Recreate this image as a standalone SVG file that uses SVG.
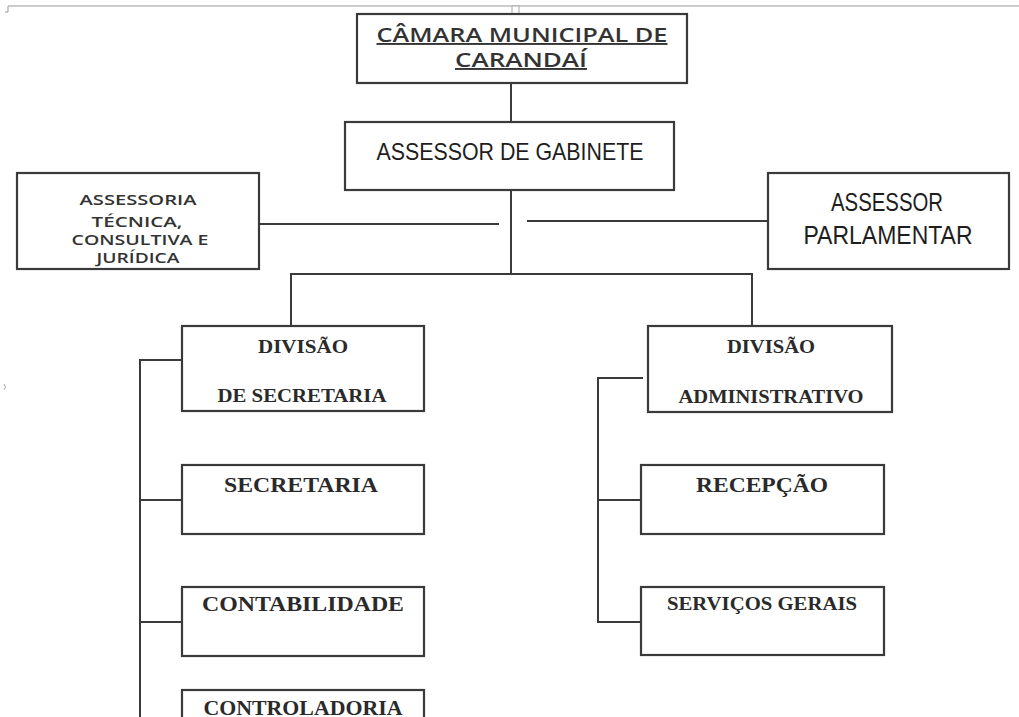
<svg xmlns="http://www.w3.org/2000/svg" width="1019" height="717" viewBox="0 0 1019 717">
<style>
.box{fill:#fff;stroke:#3a3a3a;stroke-width:2.2}
.ln{fill:none;stroke:#3a3a3a;stroke-width:2}
.sans{font-family:"Liberation Sans","DejaVu Sans",sans-serif;fill:#1e1e1e;text-anchor:middle}
.geo{font-family:"Open Sans","DejaVu Sans",sans-serif;font-weight:600;fill:#333;text-anchor:middle}
.serif{font-family:"Liberation Serif","DejaVu Serif",serif;font-weight:bold;fill:#2a2a2a;text-anchor:middle}
</style>
<rect width="1019" height="717" fill="#fff"/>
<g id="page-marks">
<line x1="8" y1="6" x2="1019" y2="6" stroke="#9a9a9a" stroke-width="1.2"/>
<path d="M8 6 V12 H5" fill="none" stroke="#9a9a9a" stroke-width="1"/>
<rect x="512" y="6" width="7" height="8" fill="#fff" stroke="#aaa" stroke-width="1"/>
<path d="M4 384 Q7 387 4 390" fill="none" stroke="#aaa" stroke-width="1"/>
</g>
<g id="connectors">
<line class="ln" x1="511" y1="83" x2="511" y2="122"/>
<line class="ln" x1="511" y1="190" x2="511" y2="274"/>
<line class="ln" x1="259" y1="224" x2="499" y2="224"/>
<line class="ln" x1="527" y1="221" x2="768" y2="221"/>
<polyline class="ln" points="291,326 291,274 752,274 752,326"/>
<polyline class="ln" points="182,360 140,360 140,717"/>
<line class="ln" x1="140" y1="500" x2="182" y2="500"/>
<line class="ln" x1="140" y1="622" x2="182" y2="622"/>
<polyline class="ln" points="643,378 598,378 598,622 641,622"/>
<line class="ln" x1="598" y1="500" x2="641" y2="500"/>
</g>
<g id="camara">
<rect class="box" x="357" y="14" width="330" height="69"/>
<text class="geo" x="522" y="42" font-size="19" textLength="291" lengthAdjust="spacingAndGlyphs" text-decoration="underline">CÂMARA MUNICIPAL DE</text>
<text class="geo" x="521" y="67" font-size="19" textLength="132" lengthAdjust="spacingAndGlyphs" text-decoration="underline">CARANDAÍ</text>
</g>
<g id="assessor-gabinete">
<rect class="box" x="345" y="122" width="329" height="68"/>
<text class="sans" x="510" y="160" font-size="24" textLength="267" lengthAdjust="spacingAndGlyphs">ASSESSOR DE GABINETE</text>
</g>
<g id="assessoria-tecnica">
<rect class="box" x="17" y="173" width="242" height="96"/>
<text class="geo" x="138" y="205" font-size="14" fill="#4a4a4a" textLength="117" lengthAdjust="spacingAndGlyphs">ASSESSORIA</text>
<text class="geo" x="137" y="227" font-size="14" fill="#4a4a4a" textLength="91" lengthAdjust="spacingAndGlyphs">TÉCNICA,</text>
<text class="geo" x="140" y="245" font-size="14" fill="#4a4a4a" textLength="137" lengthAdjust="spacingAndGlyphs">CONSULTIVA E</text>
<text class="geo" x="138" y="263" font-size="14" fill="#4a4a4a" textLength="83" lengthAdjust="spacingAndGlyphs">JURÍDICA</text>
</g>
<g id="assessor-parlamentar">
<rect class="box" x="768" y="173" width="241" height="96"/>
<text class="sans" x="887" y="211" font-size="25" textLength="112" lengthAdjust="spacingAndGlyphs">ASSESSOR</text>
<text class="sans" x="888" y="244" font-size="25" textLength="169" lengthAdjust="spacingAndGlyphs">PARLAMENTAR</text>
</g>
<g id="divisao-secretaria">
<rect class="box" x="182" y="326" width="242" height="85"/>
<text class="serif" x="303" y="353" font-size="19" textLength="90" lengthAdjust="spacingAndGlyphs">DIVISÃO</text>
<text class="serif" x="302" y="402" font-size="19" textLength="169" lengthAdjust="spacingAndGlyphs">DE SECRETARIA</text>
</g>
<g id="secretaria">
<rect class="box" x="182" y="465" width="242" height="69"/>
<text class="serif" x="301" y="492" font-size="21" textLength="154" lengthAdjust="spacingAndGlyphs">SECRETARIA</text>
</g>
<g id="contabilidade">
<rect class="box" x="182" y="587" width="242" height="69"/>
<text class="serif" x="303" y="611" font-size="20" textLength="202" lengthAdjust="spacingAndGlyphs">CONTABILIDADE</text>
</g>
<g id="controladoria">
<rect class="box" x="182" y="690" width="242" height="40"/>
<text class="serif" x="303" y="715" font-size="20" textLength="199" lengthAdjust="spacingAndGlyphs">CONTROLADORIA</text>
</g>
<g id="divisao-administrativo">
<rect class="box" x="648" y="326" width="244" height="86"/>
<text class="serif" x="771" y="353" font-size="19" textLength="88" lengthAdjust="spacingAndGlyphs">DIVISÃO</text>
<text class="serif" x="771" y="403" font-size="19" textLength="185" lengthAdjust="spacingAndGlyphs">ADMINISTRATIVO</text>
</g>
<g id="recepcao">
<rect class="box" x="641" y="465" width="243" height="69"/>
<text class="serif" x="762" y="492" font-size="21" textLength="132" lengthAdjust="spacingAndGlyphs">RECEPÇÃO</text>
</g>
<g id="servicos-gerais">
<rect class="box" x="641" y="587" width="243" height="68"/>
<text class="serif" x="762" y="610" font-size="18" textLength="190" lengthAdjust="spacingAndGlyphs">SERVIÇOS GERAIS</text>
</g>
</svg>
